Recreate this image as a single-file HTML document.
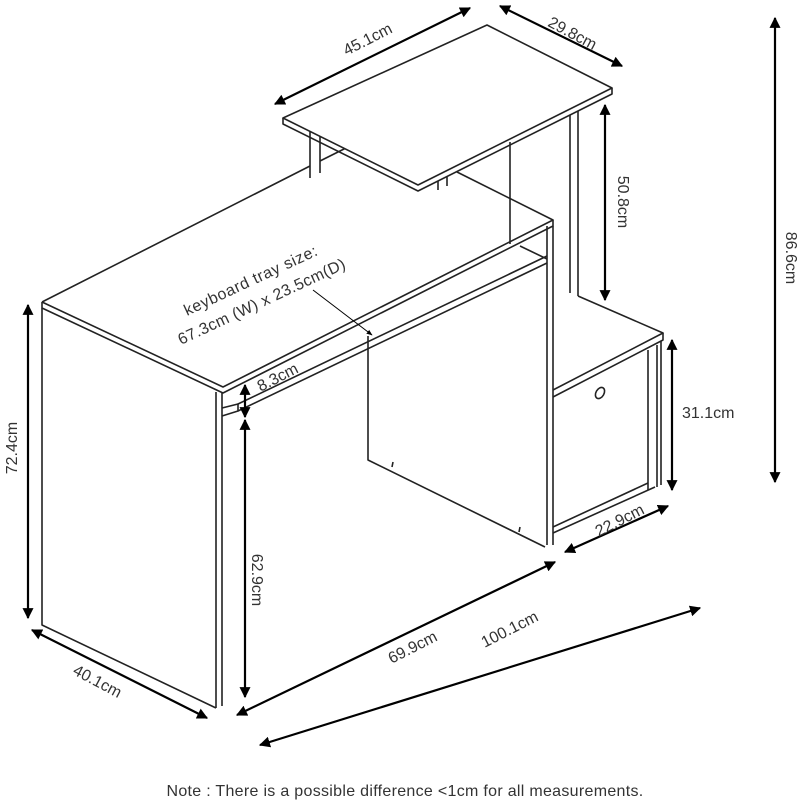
<!DOCTYPE html>
<html><head><style>
html,body{margin:0;padding:0;background:#fff;}
svg{display:block;}
text{font-family:"Liberation Sans",sans-serif;fill:#333;}
</style></head><body>
<svg width="800" height="800" viewBox="0 0 800 800" xmlns="http://www.w3.org/2000/svg">
<defs>
<marker id="a" viewBox="0 0 10 10" refX="9" refY="5" markerWidth="5" markerHeight="5" orient="auto-start-reverse"><path d="M0,0 L10,5 L0,10 z" fill="#000"/></marker>
<marker id="s" viewBox="0 0 10 10" refX="9" refY="5" markerWidth="6" markerHeight="6" orient="auto"><path d="M0,1 L10,5 L0,9 z" fill="#000"/></marker>
</defs>
<g fill="none" stroke="#222" stroke-width="1.6" stroke-linejoin="round">
<!-- desk top -->
<path d="M42,302 L310,166 M320,161 L352,145 M457,172 L553,220 L223,387 L42,302"/>
<path d="M42,302 L42,308 L223,393 L553,226 L553,220"/>
<!-- top shelf -->
<path d="M283,118 L487,25 L612,88 L418,185 Z" fill="#fff"/>
<path d="M283,118 L283,124 L418,191 L612,94 L612,88"/>
<!-- shelf legs -->
<path d="M310,131 L310,178 M320,136 L320,173"/>
<path d="M438,181 L438,190 M447,177 L447,186"/>
<path d="M570,115 L570,293 M578,111 L578,296"/>
<path d="M510,142 L510,244"/>
<!-- left panel -->
<path d="M42,308 L42,625 L216,708"/>
<path d="M216,392 L216,708 M222,393 L222,706"/>
<!-- keyboard tray -->
<path d="M238,404 L547,256 M238,411 L547,263"/>
<path d="M222,408 L238,404 L238,411 L222,416"/>
<path d="M520,246 L547,259"/>
<!-- middle panel -->
<path d="M547,226 L547,545 M553,226 L553,545"/>
<!-- back panel -->
<path d="M368,336 L368,460 L545,547"/>
<path d="M393,462 l-1,5 M520,527 l-1,5"/>
<!-- cabinet -->
<path d="M578,296 L663,333 L553,390"/>
<path d="M663,333 L663,340 L553,397"/>
<path d="M648,350 L648,490 M657,345 L657,487 M661,341 L661,485"/>
<path d="M553,533 L655,487 M553,527 L648,483"/>
<ellipse cx="600" cy="393" rx="4" ry="6" transform="rotate(30 600 393)"/>
</g>
<!-- dimension arrows -->
<g stroke="#000" stroke-width="2.2" fill="none" marker-start="url(#a)" marker-end="url(#a)">
<line x1="275" y1="104" x2="470" y2="8"/>
<line x1="500" y1="6" x2="622" y2="66"/>
<line x1="605" y1="105" x2="605" y2="300"/>
<line x1="775" y1="18" x2="775" y2="482"/>
<line x1="28" y1="305" x2="28" y2="618"/>
<line x1="245" y1="385" x2="245" y2="417"/>
<line x1="245" y1="420" x2="245" y2="697"/>
<line x1="672" y1="340" x2="672" y2="490"/>
<line x1="565" y1="552" x2="668" y2="506"/>
<line x1="237" y1="715" x2="555" y2="562"/>
<line x1="260" y1="745" x2="700" y2="608"/>
<line x1="32" y1="630" x2="207" y2="718"/>
</g>
<line x1="313" y1="290" x2="372" y2="335" stroke="#000" stroke-width="1" marker-end="url(#s)"/>
<!-- labels -->
<g font-size="16">
<text transform="translate(370,44) rotate(-27)" text-anchor="middle">45.1cm</text>
<text transform="translate(570,38) rotate(28)" text-anchor="middle">29.8cm</text>
<text transform="translate(618,202) rotate(90)" text-anchor="middle">50.8cm</text>
<text transform="translate(786,258) rotate(90)" text-anchor="middle">86.6cm</text>
<text transform="translate(17,448) rotate(-90)" text-anchor="middle">72.4cm</text>
<text transform="translate(252,580) rotate(90)" text-anchor="middle">62.9cm</text>
<text transform="translate(415,652) rotate(-27)" text-anchor="middle">69.9cm</text>
<text transform="translate(512,634) rotate(-27)" text-anchor="middle">100.1cm</text>
<text transform="translate(622,525) rotate(-27)" text-anchor="middle">22.9cm</text>
<text transform="translate(95,686) rotate(28)" text-anchor="middle">40.1cm</text>
<text x="682" y="418">31.1cm</text>
<text transform="translate(280,382) rotate(-27)" text-anchor="middle">8.3cm</text>
<text transform="translate(187,316) rotate(-25)" letter-spacing="0.6">keyboard tray size:</text>
<text transform="translate(181,345) rotate(-25)" letter-spacing="0.4">67.3cm (W) x 23.5cm(D)</text>
</g>
<text x="405" y="796" font-size="16" text-anchor="middle" letter-spacing="0.3">Note : There is a possible difference &lt;1cm for all measurements.</text>
</svg>
</body></html>
